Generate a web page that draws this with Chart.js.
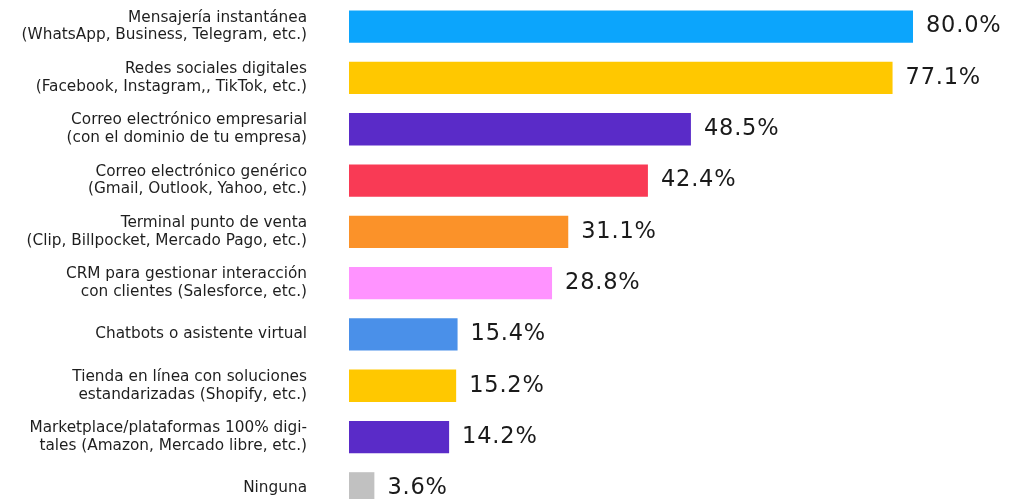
<!DOCTYPE html>
<html>
<head>
<meta charset="utf-8">
<script src="https://cdn.jsdelivr.net/npm/chart.js@4/dist/chart.umd.min.js"></script>
<style>
  html, body { margin: 0; padding: 0; background: #fff; overflow: hidden; }
  #wrap { width: 1010px; height: 515px; }
</style>
</head>
<body>
<div id="wrap"><canvas id="barChart"></canvas></div>
<script>
// categories (each one split in lines like the reference)
const categories = [
  ["Mensajería instantánea", "(WhatsApp, Business, Telegram, etc.)"],
  ["Redes sociales digitales", "(Facebook, Instagram,, TikTok, etc.)"],
  ["Correo electrónico empresarial", "(con el dominio de tu empresa)"],
  ["Correo electrónico genérico", "(Gmail, Outlook, Yahoo, etc.)"],
  ["Terminal punto de venta", "(Clip, Billpocket, Mercado Pago, etc.)"],
  ["CRM para gestionar interacción", "con clientes (Salesforce, etc.)"],
  ["Chatbots o asistente virtual"],
  ["Tienda en línea con soluciones", "estandarizadas (Shopify, etc.)"],
  ["Marketplace/plataformas 100% digi-", "tales (Amazon, Mercado libre, etc.)"],
  ["Ninguna"],
];

const values = [80.0, 77.1, 48.5, 42.4, 31.1, 28.8, 15.4, 15.2, 14.2, 3.6];

const barColors = [
  "#0CA5FC", "#FFC800", "#5A2BC8", "#F93A55", "#FB9229",
  "#FF93FF", "#4A90E9", "#FFC800", "#5A2BC8", "#C1C1C1",
];

// draws the value at the end of each bar
const valueLabels = {
  id: "valueLabels",
  afterDatasetsDraw(chart) {
    const ctx = chart.ctx;
    const meta = chart.getDatasetMeta(0);
    ctx.save();
    ctx.font = "22.5px 'DejaVu Sans'";
    ctx.letterSpacing = "0.8px";
    ctx.fillStyle = "#1a1a1a";
    ctx.textAlign = "left";
    ctx.textBaseline = "middle";
    meta.data.forEach((bar, i) => {
      ctx.fillText(values[i].toFixed(1) + "%", bar.x + 13, bar.y);
    });
    ctx.restore();
  },
};

const ctx = document.getElementById("barChart").getContext("2d");

new Chart(ctx, {
  type: "bar",
  data: {
    labels: categories,
    datasets: [
      {
        data: values,
        backgroundColor: barColors,
        borderWidth: 0,
        categoryPercentage: 1,
        barPercentage: 0.63,
      },
    ],
  },
  options: {
    indexAxis: "y",
    responsive: true,
    maintainAspectRatio: false,
    animation: false,
    layout: {
      padding: { top: 1, bottom: 1, right: 97, left: 0 },
    },
    scales: {
      x: {
        display: false,
        min: 0,
        max: 80,
      },
      y: {
        grid: { display: false, drawTicks: false },
        border: { display: false },
        ticks: {
          padding: 42,
          autoSkip: false,
          color: "#1e1e1e",
          font: { family: "'DejaVu Sans'", size: 15.3, lineHeight: 1.15 },
        },
        afterFit: (scale) => {
          // keep the plot starting at x=349 and the rows filling the height
          scale.width = 349;
          scale.paddingTop = 0;
          scale.paddingBottom = 0;
        },
      },
    },
    plugins: {
      legend: { display: false },
      tooltip: { enabled: false },
    },
  },
  plugins: [valueLabels],
});
</script>
</body>
</html>
